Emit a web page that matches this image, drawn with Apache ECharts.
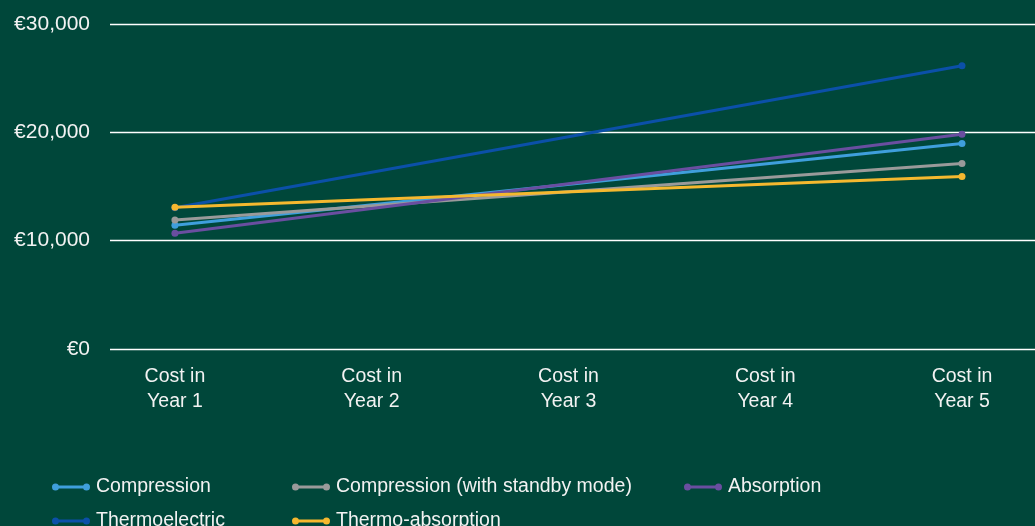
<!DOCTYPE html>
<html>
<head>
<meta charset="utf-8">
<script src="https://cdn.jsdelivr.net/npm/echarts@6/dist/echarts.min.js"></script>
<style>
html,body{margin:0;padding:0;background:#00473a;}
#c{width:1035px;height:526px;}
</style>
</head>
<body>
<div id="c"></div>
<script>
const categories = ["Cost in\nYear 1", "Cost in\nYear 2", "Cost in\nYear 3", "Cost in\nYear 4", "Cost in\nYear 5"];
const yTicks = [0, 10000, 20000, 30000];
const seriesNames = ["Compression", "Compression (with standby mode)", "Absorption", "Thermoelectric", "Thermo-absorption"];
const compression = [11420, null, null, null, 18970];
const compressionStandby = [11900, null, null, null, 17130];
const absorption = [10680, null, null, null, 19830];
const thermoelectric = [13030, null, null, null, 26150];
const thermoAbsorption = [13080, null, null, null, 15930];

const colors = ["#3f9fdc", "#9a9a9a", "#6a4ea0", "#0b50a8", "#f5b82f"];
const values = [compression, compressionStandby, absorption, thermoelectric, thermoAbsorption];

const iconPath = 'path://M0,4a3.5,3.5 0 1,1 7,0a3.5,3.5 0 1,1 -7,0Z M6,2.5h26v3h-26Z M31,4a3.5,3.5 0 1,1 7,0a3.5,3.5 0 1,1 -7,0Z';

const legendPos = [[52, 486], [292, 486], [684, 486], [52, 520], [292, 520]];

const chart = echarts.init(document.getElementById('c'));
const font = '"Liberation Sans", Arial, Helvetica, sans-serif';
const txt = '#f2f2f2';

chart.setOption({
  backgroundColor: '#00473a',
  animation: false,
  grid: { left: 110, right: 0, top: 24, bottom: 177, containLabel: false },
  xAxis: {
    type: 'value',
    min: -0.33,
    max: 4.371,
    axisLine: { show: false },
    axisTick: { show: false },
    splitLine: { show: false },
    axisLabel: {
      customValues: categories.map((c, i) => i),
      formatter: v => categories[Math.round(v)] || '',
      color: txt,
      fontSize: 19.5,
      fontFamily: font,
      lineHeight: 25,
      margin: 15,
      showMinLabel: true,
      showMaxLabel: true
    }
  },
  yAxis: {
    type: 'value',
    min: 0,
    max: 30000,
    interval: 10000,
    axisLine: { show: false },
    axisTick: { show: false },
    splitLine: { lineStyle: { color: '#ffffff', width: 1.3 } },
    axisLabel: {
      color: txt,
      fontSize: 21,
      fontFamily: font,
      margin: 20,
      formatter: v => '€' + v.toLocaleString('en-US')
    }
  },
  legend: seriesNames.map((n, i) => ({
    data: [n],
    left: legendPos[i][0],
    top: legendPos[i][1] - 9,
    itemWidth: 38,
    itemHeight: 8,
    itemGap: 0,
    padding: 0,
    icon: iconPath,
    textStyle: { color: txt, fontSize: 19.5, fontFamily: font, padding: [0, 0, 0, 1] },
    selectedMode: false
  })),
  series: seriesNames.map((n, i) => ({
    name: n,
    type: 'line',
    data: values[i].map((v, j) => [j, v]).filter(p => p[1] !== null),
    symbol: 'circle',
    symbolSize: 7,
    showSymbol: true,
    lineStyle: { width: 3, color: colors[i] },
    itemStyle: { color: colors[i] },
    z: [2, 2, 2, 1, 3][i]
  }))
});
</script>
</body>
</html>
